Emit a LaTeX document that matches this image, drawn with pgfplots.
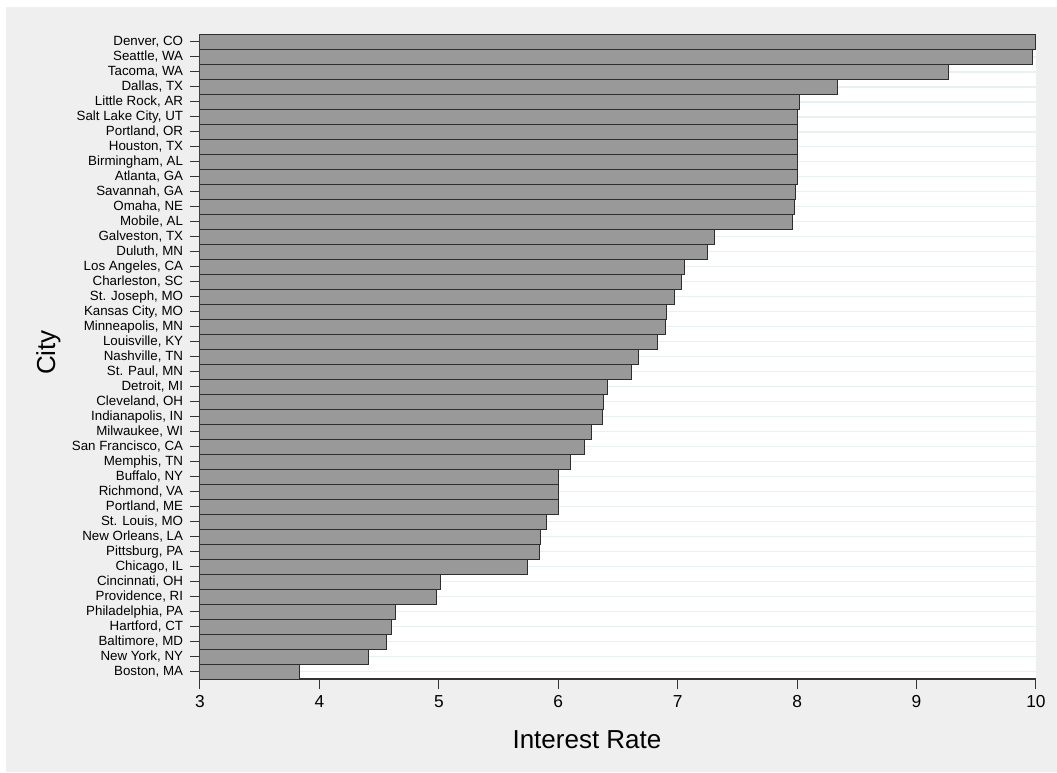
\documentclass[border=0pt]{standalone}
\usepackage{fontspec}
\setmainfont{Liberation Sans}
\usepackage{pgfplots}
\pgfplotsset{compat=1.18}
\definecolor{bgray}{HTML}{EFEFEF}
\definecolor{barfill}{HTML}{999999}
\definecolor{barline}{HTML}{2E2E2E}
\definecolor{gridc}{HTML}{E8F0F2}
\definecolor{axc}{HTML}{333333}

\begin{document}
\begin{tikzpicture}
% page and graph region (1px = 0.75pt)
\fill[white] (-150pt,-69.75pt) rectangle (642.75pt,509.25pt);
\fill[bgray] (-145.5pt,-69.75pt) rectangle (642.75pt,504pt);
\begin{axis}[
    at={(0pt,0pt)}, anchor=south west,
    scale only axis,
    width=627pt, height=483.4pt,
    xbar, bar width=1,
    xmin=3, xmax=10,
    ymin=-0.5, ymax=42.5,
    y dir=reverse,
    enlargelimits=false,
    axis background/.style={fill=white},
    axis x line*=bottom, axis y line*=left,
    axis line style={axc, line width=1pt},
    xtick={3,...,10},
    ytick={0,...,42},
    yticklabels={{Denver, CO},{Seattle, WA},{Tacoma, WA},{Dallas, TX},{Little Rock, AR},
      {Salt Lake City, UT},{Portland, OR},{Houston, TX},{Birmingham, AL},{Atlanta, GA},
      {Savannah, GA},{Omaha, NE},{Mobile, AL},{Galveston, TX},{Duluth, MN},
      {Los Angeles, CA},{Charleston, SC},{St. Joseph, MO},{Kansas City, MO},{Minneapolis, MN},
      {Louisville, KY},{Nashville, TN},{St. Paul, MN},{Detroit, MI},{Cleveland, OH},
      {Indianapolis, IN},{Milwaukee, WI},{San Francisco, CA},{Memphis, TN},{Buffalo, NY},
      {Richmond, VA},{Portland, ME},{St. Louis, MO},{New Orleans, LA},{Pittsburg, PA},
      {Chicago, IL},{Cincinnati, OH},{Providence, RI},{Philadelphia, PA},{Hartford, CT},
      {Baltimore, MD},{New York, NY},{Boston, MA}},
    tick align=outside,
    major tick length=7.5pt,
    tick style={axc, line width=0.75pt},
    ymajorgrids,
    major grid style={gridc, line width=0.9pt},
    /pgf/number format/assume math mode=true,
    yticklabel style={font=\fontsize{10}{10}\selectfont, inner sep=0pt, xshift=-5pt},
    xticklabel style={font=\fontsize{13}{13}\selectfont, inner sep=0pt, yshift=-4.5pt},
    xlabel={Interest Rate},
    ylabel={City},
    xlabel style={at={(axis description cs:0.4629,-0.0946)}, anchor=center,
      font=\fontsize{19.5}{20}\selectfont},
    ylabel style={at={(axis description cs:-0.1812,0.5066)}, anchor=center,
      font=\fontsize{19.5}{20}\selectfont},
]
\addplot[fill=barfill, draw=barline, line width=0.75pt] coordinates {
    (10.00,0) (9.97,1) (9.27,2) (8.34,3) (8.02,4)
    (8.00,5) (8.00,6) (8.00,7) (8.00,8) (8.00,9)
    (7.99,10) (7.98,11) (7.96,12) (7.31,13) (7.25,14)
    (7.06,15) (7.03,16) (6.97,17) (6.91,18) (6.90,19)
    (6.83,20) (6.67,21) (6.61,22) (6.41,23) (6.38,24)
    (6.37,25) (6.28,26) (6.22,27) (6.10,28) (6.00,29)
    (6.00,30) (6.00,31) (5.90,32) (5.85,33) (5.84,34)
    (5.74,35) (5.01,36) (4.98,37) (4.64,38) (4.60,39)
    (4.56,40) (4.41,41) (3.83,42)
};
\end{axis}
\pgfresetboundingbox
\path[use as bounding box] (-150pt,-69.75pt) rectangle (642.75pt,509.25pt);
\end{tikzpicture}
\end{document}
